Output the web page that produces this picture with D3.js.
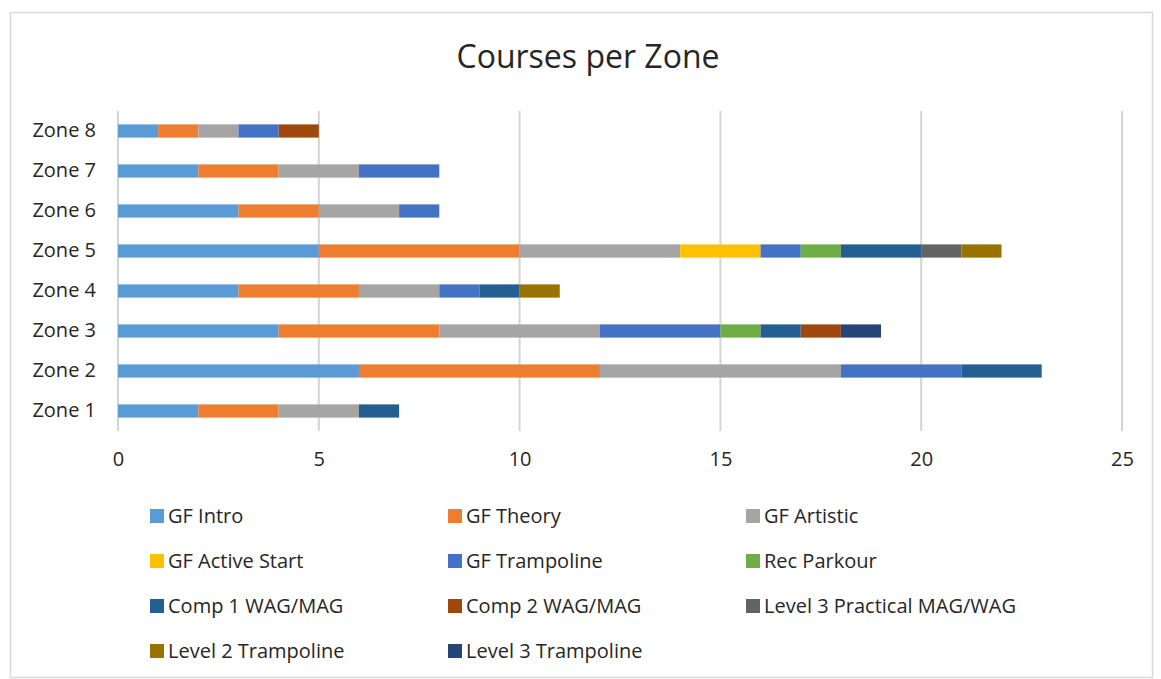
<!DOCTYPE html>
<html>
<head>
<meta charset="utf-8">
<script src="https://cdn.jsdelivr.net/npm/d3@7"></script>
<style>
  html, body { margin: 0; padding: 0; background: #fff; }
  svg { display: block; font-family: "Open Sans", "Noto Sans", sans-serif; }
</style>
</head>
<body>
<div id="chart"></div>
<script>
// Zones, bottom to top as they appear on the y axis
const zones = ['Zone 1', 'Zone 2', 'Zone 3', 'Zone 4', 'Zone 5', 'Zone 6', 'Zone 7', 'Zone 8'];

const seriesNames = [
  'GF Intro', 'GF Theory', 'GF Artistic', 'GF Active Start', 'GF Trampoline',
  'Rec Parkour', 'Comp 1 WAG/MAG', 'Comp 2 WAG/MAG', 'Level 3 Practical MAG/WAG',
  'Level 2 Trampoline', 'Level 3 Trampoline'
];

const seriesColors = [
  '#5B9BD5', '#ED7D31', '#A5A5A5', '#FFC000', '#4472C4',
  '#70AD47', '#255E91', '#9E480E', '#636363', '#997300', '#264478'
];

// one value per zone (Zone 1 .. Zone 8)
const gfIntro          = [2, 6, 4, 3, 5, 3, 2, 1];
const gfTheory         = [2, 6, 4, 3, 5, 2, 2, 1];
const gfArtistic       = [2, 6, 4, 2, 4, 2, 2, 1];
const gfActiveStart    = [0, 0, 0, 0, 2, 0, 0, 0];
const gfTrampoline     = [0, 3, 3, 1, 1, 1, 2, 1];
const recParkour       = [0, 0, 1, 0, 1, 0, 0, 0];
const comp1            = [1, 2, 1, 1, 2, 0, 0, 0];
const comp2            = [0, 0, 1, 0, 0, 0, 0, 1];
const level3Practical  = [0, 0, 0, 0, 1, 0, 0, 0];
const level2Trampoline = [0, 0, 0, 1, 1, 0, 0, 0];
const level3Trampoline = [0, 0, 1, 0, 0, 0, 0, 0];

const seriesValues = [gfIntro, gfTheory, gfArtistic, gfActiveStart, gfTrampoline,
  recParkour, comp1, comp2, level3Practical, level2Trampoline, level3Trampoline];

const xTicks = [0, 5, 10, 15, 20, 25];

// build rows for d3.stack
const rows = zones.map((z, i) => {
  const r = { zone: z };
  seriesNames.forEach((s, j) => { r[s] = seriesValues[j][i]; });
  return r;
});

const width = 1161, height = 679;
const plot = { left: 118, right: 1122, top: 111, bottom: 431 };

const svg = d3.select('#chart').append('svg')
  .attr('width', width)
  .attr('height', height);

// outer chart border
svg.append('rect')
  .attr('x', 10.5).attr('y', 12.5)
  .attr('width', 1142).attr('height', 665)
  .attr('fill', '#fff')
  .attr('stroke', '#d9d9d9')
  .attr('stroke-width', 1.5);

svg.append('text')
  .attr('x', 588).attr('y', 68)
  .attr('text-anchor', 'middle')
  .attr('font-size', 32)
  .attr('fill', '#262626')
  .text('Courses per Zone');

const x = d3.scaleLinear().domain([0, 25]).range([plot.left, plot.right]);
const y = d3.scaleBand().domain(zones.slice().reverse())
  .range([plot.top, plot.bottom]).paddingInner(0.67).paddingOuter(0.335);

// vertical gridlines
svg.append('g')
  .selectAll('line')
  .data(xTicks)
  .join('line')
  .attr('x1', d => x(d)).attr('x2', d => x(d))
  .attr('y1', plot.top).attr('y2', plot.bottom)
  .attr('stroke', '#d4d4d4')
  .attr('stroke-width', 2);

// stacked bars
const stacked = d3.stack().keys(seriesNames)(rows);
svg.append('g')
  .selectAll('g')
  .data(stacked)
  .join('g')
  .attr('fill', (d, i) => seriesColors[i])
  .selectAll('rect')
  .data(d => d.filter(p => p[1] > p[0]))
  .join('rect')
  .attr('x', d => x(d[0]))
  .attr('y', d => y(d.data.zone))
  .attr('width', d => x(d[1]) - x(d[0]))
  .attr('height', y.bandwidth());

// x axis labels
const xAxis = svg.append('g')
  .attr('transform', `translate(0,${plot.bottom})`)
  .call(d3.axisBottom(x).tickValues(xTicks).tickSize(0).tickPadding(21));
xAxis.select('.domain').remove();
xAxis.selectAll('text')
  .attr('font-size', 20)
  .attr('font-family', '"Open Sans", sans-serif')
  .attr('fill', '#262626');

// y axis labels
const yAxis = svg.append('g')
  .attr('transform', `translate(${plot.left},0)`)
  .call(d3.axisLeft(y).tickSize(0).tickPadding(22));
yAxis.select('.domain').remove();
yAxis.selectAll('text')
  .attr('font-size', 20)
  .attr('font-family', '"Open Sans", sans-serif')
  .attr('fill', '#262626');

// legend, three columns
const legend = svg.append('g')
  .selectAll('g')
  .data(seriesNames)
  .join('g')
  .attr('transform', (d, i) => `translate(${150 + (i % 3) * 298},${516 + Math.floor(i / 3) * 45})`);

legend.append('rect')
  .attr('x', 0).attr('y', -7)
  .attr('width', 14).attr('height', 14)
  .attr('fill', (d, i) => seriesColors[i]);

legend.append('text')
  .attr('x', 18).attr('y', 0)
  .attr('dy', '0.35em')
  .attr('font-size', 20)
  .attr('fill', '#262626')
  .text(d => d);
</script>
</body>
</html>
